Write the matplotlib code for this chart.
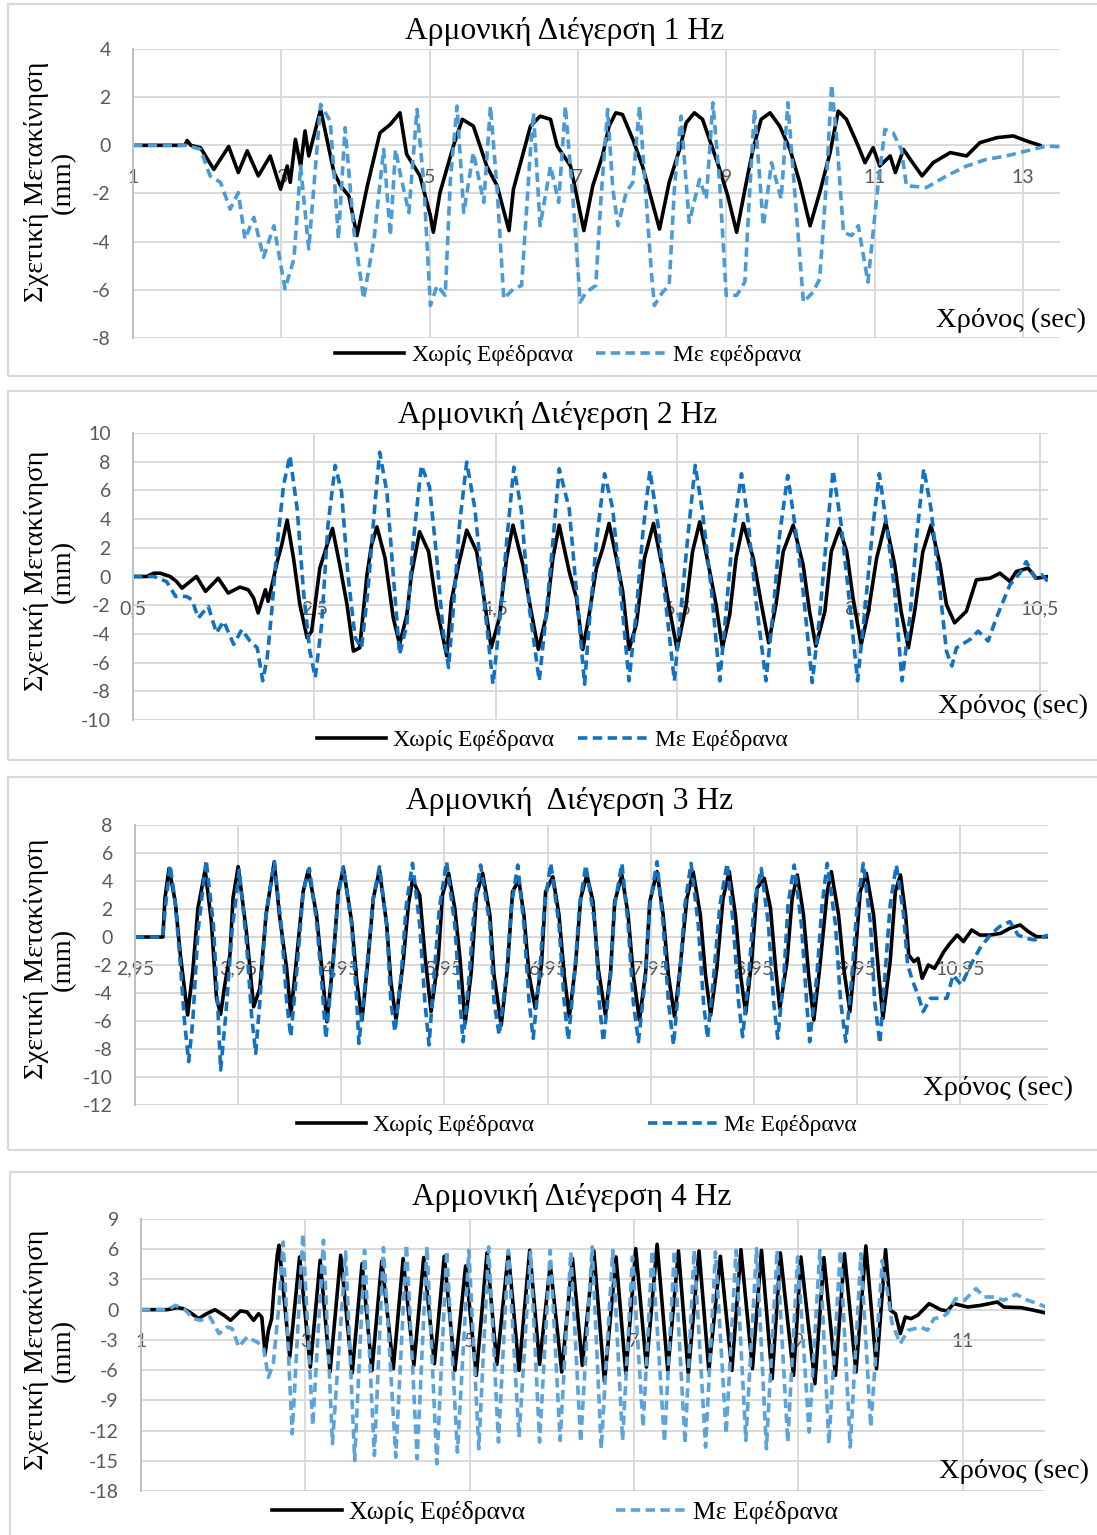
import matplotlib
matplotlib.use("Agg")
import matplotlib.pyplot as plt
from matplotlib.patches import Rectangle

W, H = 1097, 1535

# time (sec), relative displacement (mm)
p1_black = [(1.0, 0.0), (1.70, 0.0), (1.73, 0.2), (1.78, 0.0), (1.91, -0.1), (2.09, -1.0), (2.29, -0.05),
            (2.42, -1.13), (2.54, -0.23), (2.69, -1.27), (2.85, -0.44), (2.99, -1.82), (3.08, -0.86),
            (3.12, -1.54), (3.19, 0.25), (3.26, -0.86), (3.32, 0.6), (3.37, -0.44), (3.53, 1.49),
            (3.71, -1.13), (3.80, -1.68), (3.91, -2.1), (4.02, -3.75), (4.16, -1.68), (4.33, 0.52),
            (4.47, 0.87), (4.60, 1.35), (4.69, -0.37), (4.87, -1.27), (5.01, -2.92), (5.05, -3.61),
            (5.14, -1.96), (5.32, -0.03), (5.44, 1.08), (5.59, 0.8), (5.77, -0.86), (5.91, -1.68),
            (6.07, -3.54), (6.13, -1.82), (6.36, 0.8), (6.49, 1.21), (6.63, 1.08), (6.72, -0.03),
            (6.90, -0.86), (7.08, -3.54), (7.20, -1.68), (7.33, -0.44), (7.42, 0.8), (7.51, 1.35),
            (7.60, 1.28), (7.74, 0.25), (7.87, -0.86), (7.99, -2.23), (8.10, -3.48), (8.23, -1.54),
            (8.37, -0.17), (8.46, 0.94), (8.57, 1.35), (8.68, 1.08), (8.82, -0.17), (8.91, -0.99),
            (9.02, -2.1), (9.14, -3.61), (9.27, -1.54), (9.36, -0.17), (9.47, 1.08), (9.59, 1.35),
            (9.72, 0.8), (9.86, -0.17), (9.99, -1.54), (10.13, -3.34), (10.26, -1.96), (10.40, -0.3),
            (10.51, 1.42), (10.62, 1.08), (10.76, 0.11), (10.87, -0.72), (10.98, -0.1), (11.07, -0.86),
            (11.21, -0.44), (11.28, -1.13), (11.39, -0.17), (11.48, -0.58), (11.64, -1.27), (11.79, -0.72),
            (12.02, -0.3), (12.24, -0.44), (12.42, 0.11), (12.65, 0.32), (12.87, 0.39), (13.05, 0.18),
            (13.23, 0.0)]
p1_blue = [(1.0, 0.0), (1.73, 0.0), (1.91, -0.17), (2.04, -1.27), (2.18, -1.54), (2.31, -2.65), (2.42, -1.96),
           (2.51, -3.89), (2.63, -2.99), (2.76, -4.65), (2.90, -3.34), (3.05, -5.96), (3.17, -4.72),
           (3.26, -0.86), (3.37, -4.3), (3.53, 1.7), (3.66, 1.0), (3.71, -1.13), (3.77, -3.89), (3.86, 0.73),
           (3.98, -3.61), (4.11, -6.37), (4.25, -3.89), (4.38, -0.17), (4.47, -3.75), (4.54, -0.17),
           (4.60, -1.13), (4.72, -2.79), (4.83, 1.49), (4.92, -1.54), (5.01, -6.65), (5.10, -5.82),
           (5.21, -6.23), (5.28, -1.41), (5.37, 1.63), (5.46, -2.79), (5.59, -0.3), (5.73, -2.37),
           (5.82, 1.63), (5.91, -1.82), (6.00, -6.37), (6.13, -5.96), (6.24, -5.82), (6.36, -0.17),
           (6.40, 1.35), (6.49, -3.34), (6.63, -0.86), (6.74, -2.37), (6.83, 1.63), (6.94, -2.51),
           (7.03, -6.51), (7.11, -6.1), (7.24, -5.82), (7.31, -2.23), (7.40, 1.49), (7.47, -1.82),
           (7.54, -3.34), (7.65, -1.96), (7.74, -1.54), (7.83, 1.63), (7.92, -2.23), (7.99, -5.27),
           (8.03, -6.65), (8.14, -6.1), (8.23, -5.82), (8.30, -1.82), (8.39, 1.21), (8.50, -3.2),
           (8.64, -1.41), (8.73, -2.23), (8.82, 1.77), (8.91, -1.54), (9.0, -6.23), (9.14, -6.23),
           (9.25, -5.68), (9.32, -1.68), (9.38, 1.49), (9.50, -3.34), (9.61, -0.72), (9.74, -2.23),
           (9.83, 1.77), (9.92, -1.82), (10.04, -6.51), (10.17, -6.1), (10.26, -5.54), (10.35, -1.54),
           (10.42, 2.52), (10.49, 0.25), (10.58, -3.61), (10.69, -3.75), (10.78, -3.34), (10.91, -5.68),
           (10.98, -3.61), (11.05, -1.54), (11.14, 0.66), (11.25, 0.52), (11.36, -0.17), (11.43, -1.68),
           (11.70, -1.75), (11.97, -1.27), (12.24, -0.86), (12.51, -0.58), (12.78, -0.44), (13.05, -0.23),
           (13.32, -0.03), (13.50, -0.06)]

p2_black = [(0.5, 0.0), (0.65, 0.0), (0.73, 0.23), (0.80, 0.23), (0.91, 0.0), (0.98, -0.35), (1.04, -0.81),
            (1.20, 0.0), (1.30, -1.04), (1.44, -0.12), (1.55, -1.15), (1.68, -0.74), (1.77, -0.92),
            (1.83, -1.5), (1.88, -2.54), (1.96, -0.92), (1.99, -1.73), (2.05, -0.12), (2.09, 1.04),
            (2.14, 2.19), (2.20, 3.93), (2.27, 1.27), (2.34, -1.96), (2.42, -4.27), (2.47, -3.81),
            (2.56, 0.58), (2.64, 2.19), (2.70, 3.35), (2.78, 0.81), (2.86, -1.96), (2.93, -5.2),
            (3.00, -4.97), (3.08, 0.12), (3.13, 2.19), (3.19, 3.46), (3.28, 1.27), (3.37, -2.89),
            (3.44, -4.73), (3.52, -2.66), (3.57, 0.12), (3.66, 3.12), (3.76, 1.73), (3.85, -2.19),
            (3.96, -5.54), (4.01, -1.73), (4.09, 0.81), (4.18, 3.23), (4.29, 1.73), (4.36, -1.04),
            (4.45, -4.97), (4.54, -2.89), (4.62, 1.27), (4.69, 3.58), (4.80, 0.81), (4.89, -2.42),
            (4.97, -5.08), (5.06, -2.66), (5.13, 1.27), (5.20, 3.58), (5.31, 0.35), (5.39, -1.5),
            (5.46, -5.08), (5.53, -2.66), (5.61, 0.58), (5.68, 1.96), (5.75, 3.7), (5.83, 1.27),
            (5.90, -1.04), (5.97, -5.08), (6.05, -3.35), (6.14, 1.27), (6.24, 3.7), (6.34, 0.58),
            (6.42, -2.42), (6.50, -5.08), (6.60, -1.96), (6.67, 1.73), (6.75, 3.81), (6.86, 0.35),
            (6.93, -1.96), (7.00, -4.97), (7.08, -2.66), (7.15, 1.27), (7.23, 3.7), (7.34, 1.27),
            (7.43, -1.96), (7.51, -4.62), (7.59, -1.96), (7.67, 1.73), (7.78, 3.58), (7.89, 0.81),
            (7.96, -2.42), (8.03, -4.85), (8.13, -2.42), (8.20, 1.73), (8.29, 3.35), (8.37, 1.73),
            (8.44, -1.5), (8.53, -4.73), (8.61, -2.42), (8.70, 1.27), (8.80, 3.81), (8.90, 0.81),
            (8.97, -2.42), (9.05, -4.97), (9.12, -2.42), (9.21, 1.73), (9.30, 3.58), (9.40, 0.81),
            (9.47, -1.96), (9.56, -3.23), (9.69, -2.42), (9.80, -0.23), (9.95, -0.12), (10.06, 0.23),
            (10.17, -0.35), (10.24, 0.35), (10.37, 0.58), (10.46, -0.12), (10.59, 0.0)]
p2_blue = [(0.5, 0.0), (0.73, 0.0), (0.87, -0.35), (0.97, -1.39), (1.09, -1.39), (1.15, -1.62), (1.22, -2.89),
           (1.33, -2.08), (1.42, -3.93), (1.50, -3.12), (1.61, -4.73), (1.70, -3.7), (1.79, -4.5),
           (1.87, -4.97), (1.93, -7.27), (1.98, -5.66), (2.03, -2.42), (2.09, 2.19), (2.16, 6.35),
           (2.23, 8.43), (2.31, 4.73), (2.38, -1.04), (2.45, -5.2), (2.51, -7.04), (2.58, -3.35),
           (2.65, 3.58), (2.73, 7.74), (2.80, 5.89), (2.87, 0.12), (2.95, -4.27), (3.02, -4.97),
           (3.09, -1.04), (3.17, 5.2), (3.22, 8.66), (3.30, 5.89), (3.37, 0.12), (3.44, -5.43),
           (3.52, -3.35), (3.59, 2.42), (3.68, 7.74), (3.77, 6.24), (3.85, 1.27), (3.92, -3.81),
           (3.98, -6.35), (4.03, -2.42), (4.10, 3.58), (4.18, 7.97), (4.27, 4.73), (4.36, -1.04),
           (4.47, -7.51), (4.54, -3.35), (4.62, 2.42), (4.70, 7.62), (4.78, 4.73), (4.87, -2.19),
           (4.98, -7.27), (5.06, -2.42), (5.13, 2.42), (5.20, 7.51), (5.31, 4.73), (5.39, -1.04),
           (5.48, -7.51), (5.53, -3.35), (5.61, 2.42), (5.70, 7.16), (5.79, 4.73), (5.86, 0.12),
           (5.97, -7.27), (6.05, -2.42), (6.12, 2.89), (6.20, 7.39), (6.29, 3.58), (6.38, -2.19),
           (6.47, -7.27), (6.54, -2.42), (6.62, 2.89), (6.70, 7.74), (6.78, 4.5), (6.88, -1.04),
           (6.97, -7.27), (7.04, -2.42), (7.11, 2.66), (7.21, 7.16), (7.28, 4.04), (7.37, -1.73),
           (7.48, -7.27), (7.56, -2.42), (7.63, 2.89), (7.72, 7.04), (7.80, 3.58), (7.89, -1.04),
           (7.99, -7.39), (8.07, -2.89), (8.15, 2.89), (8.22, 7.39), (8.31, 3.58), (8.40, -1.73),
           (8.49, -7.27), (8.57, -2.42), (8.66, 3.58), (8.73, 7.16), (8.81, 3.58), (8.90, -1.04),
           (8.98, -7.27), (9.07, -2.66), (9.14, 2.66), (9.22, 7.51), (9.30, 4.73), (9.40, -1.04),
           (9.47, -5.2), (9.53, -6.24), (9.58, -4.97), (9.73, -4.39), (9.82, -3.81), (9.93, -4.5),
           (10.02, -2.89), (10.17, -0.58), (10.28, 0.23), (10.35, 1.04), (10.45, -0.12), (10.52, 0.12),
           (10.59, -0.35)]

p3_black = [(2.95, 0.0), (3.22, 0.0), (3.24, 2.76), (3.28, 4.9), (3.34, 2.52), (3.39, -1.29), (3.46, -5.57),
            (3.51, -2.48), (3.56, 2.05), (3.63, 4.79), (3.69, 1.1), (3.74, -4.38), (3.78, -5.52),
            (3.82, -3.43), (3.87, -1.29), (3.90, 2.76), (3.95, 5.02), (4.03, 0.38), (4.10, -4.98),
            (4.16, -3.67), (4.22, 1.57), (4.30, 5.38), (4.35, 1.57), (4.42, -2.24), (4.46, -5.57),
            (4.51, -2.0), (4.58, 3.24), (4.63, 4.79), (4.71, 1.57), (4.76, -2.24), (4.81, -6.05),
            (4.87, -1.76), (4.92, 3.24), (4.97, 4.9), (5.05, 1.1), (5.10, -3.19), (5.15, -5.93),
            (5.21, -1.52), (5.26, 2.76), (5.32, 4.79), (5.39, 0.86), (5.43, -3.19), (5.48, -5.93),
            (5.55, -1.76), (5.60, 2.29), (5.64, 4.07), (5.71, 3.0), (5.76, -1.29), (5.82, -5.33),
            (5.89, -1.52), (5.93, 3.0), (5.99, 4.55), (6.05, 2.05), (6.10, -1.52), (6.15, -6.17),
            (6.21, -2.48), (6.26, 3.0), (6.32, 4.55), (6.39, 1.57), (6.43, -2.71), (6.50, -6.29),
            (6.56, -2.24), (6.61, 3.24), (6.67, 4.07), (6.72, 1.57), (6.77, -2.71), (6.83, -5.1),
            (6.89, -2.0), (6.93, 3.24), (7.00, 4.31), (7.06, 1.57), (7.11, -2.71), (7.16, -5.69),
            (7.22, -2.0), (7.27, 2.76), (7.33, 4.43), (7.39, 2.52), (7.44, -2.24), (7.51, -5.57),
            (7.56, -2.48), (7.60, 2.52), (7.67, 4.43), (7.73, 1.57), (7.78, -2.71), (7.84, -5.93),
            (7.90, -2.48), (7.94, 2.52), (8.01, 4.67), (8.07, 1.57), (8.12, -2.71), (8.18, -5.69),
            (8.23, -2.48), (8.30, 2.76), (8.36, 4.67), (8.43, 1.57), (8.48, -2.71), (8.53, -5.57),
            (8.59, -2.24), (8.65, 2.76), (8.71, 4.67), (8.77, 1.57), (8.82, -2.71), (8.87, -5.45),
            (8.93, -1.52), (8.98, 3.48), (9.05, 4.19), (9.11, 2.05), (9.16, -2.24), (9.20, -5.1),
            (9.27, -1.76), (9.32, 2.76), (9.37, 4.43), (9.43, 1.57), (9.48, -2.71), (9.53, -5.93),
            (9.59, -2.0), (9.66, 3.24), (9.70, 4.67), (9.77, 1.57), (9.82, -2.24), (9.88, -5.33),
            (9.93, -1.52), (9.98, 3.24), (10.04, 4.55), (10.11, 1.57), (10.16, -2.71), (10.20, -5.81),
            (10.27, -1.76), (10.32, 3.24), (10.37, 4.43), (10.42, 1.57), (10.45, -1.29), (10.50, -1.76),
            (10.54, -1.52), (10.58, -2.95), (10.64, -2.0), (10.70, -2.24), (10.79, -1.05), (10.85, -0.45),
            (10.92, 0.14), (10.98, -0.33), (11.06, 0.5), (11.14, 0.14), (11.24, 0.14), (11.34, 0.26),
            (11.43, 0.62), (11.53, 0.86), (11.61, 0.38), (11.69, 0.02), (11.80, 0.02)]
p3_blue = [(2.95, 0.0), (3.22, 0.0), (3.24, 1.81), (3.29, 5.14), (3.34, 2.52), (3.39, -2.0), (3.43, -6.05),
           (3.47, -8.9), (3.51, -6.05), (3.56, 0.38), (3.64, 5.5), (3.71, 0.86), (3.75, -4.62), (3.78, -9.5),
           (3.83, -5.57), (3.89, 0.38), (3.96, 4.79), (4.03, -0.33), (4.08, -5.57), (4.12, -8.31),
           (4.16, -4.62), (4.22, 1.57), (4.30, 5.38), (4.37, 0.62), (4.42, -4.62), (4.46, -7.12),
           (4.51, -3.19), (4.58, 3.24), (4.64, 4.9), (4.71, 1.1), (4.76, -3.19), (4.80, -7.24),
           (4.87, -2.0), (4.92, 3.0), (4.97, 5.02), (5.05, 0.86), (5.10, -4.62), (5.12, -7.6),
           (5.19, -2.71), (5.26, 2.76), (5.32, 5.02), (5.39, 0.86), (5.43, -4.62), (5.47, -6.76),
           (5.53, -2.71), (5.58, 2.29), (5.64, 5.26), (5.71, 0.86), (5.76, -4.62), (5.80, -7.71),
           (5.85, -2.71), (5.90, 2.05), (5.97, 5.38), (6.05, 0.86), (6.10, -4.62), (6.13, -7.48),
           (6.19, -2.71), (6.24, 2.29), (6.30, 5.14), (6.39, 0.86), (6.43, -4.62), (6.48, -7.0),
           (6.55, -2.71), (6.60, 2.29), (6.66, 5.14), (6.72, 0.86), (6.77, -4.62), (6.81, -7.24),
           (6.87, -2.71), (6.92, 2.29), (6.98, 5.26), (7.06, 0.86), (7.11, -4.62), (7.15, -7.36),
           (7.21, -2.71), (7.26, 2.29), (7.32, 5.14), (7.41, 0.86), (7.45, -4.62), (7.49, -7.48),
           (7.56, -2.71), (7.60, 2.29), (7.67, 5.26), (7.73, 0.86), (7.78, -4.62), (7.83, -7.48),
           (7.90, -2.71), (7.94, 2.29), (8.01, 5.38), (8.07, 0.86), (8.12, -4.62), (8.17, -7.71),
           (8.23, -2.71), (8.28, 2.29), (8.34, 5.26), (8.41, 0.86), (8.46, -4.62), (8.50, -7.24),
           (8.56, -2.71), (8.62, 2.29), (8.69, 5.26), (8.75, 0.86), (8.80, -4.62), (8.84, -7.12),
           (8.90, -2.71), (8.95, 2.29), (9.02, 4.9), (9.09, 0.86), (9.14, -4.62), (9.18, -7.24),
           (9.24, -2.71), (9.28, 2.29), (9.34, 5.14), (9.41, 0.86), (9.46, -4.62), (9.49, -7.48),
           (9.56, -2.71), (9.61, 2.29), (9.66, 5.26), (9.74, 0.86), (9.79, -4.62), (9.84, -7.48),
           (9.90, -2.71), (9.95, 2.29), (10.01, 5.26), (10.08, 0.86), (10.12, -4.62), (10.17, -7.6),
           (10.22, -2.71), (10.27, 2.29), (10.33, 5.14), (10.40, 1.57), (10.44, -2.0), (10.49, -3.19),
           (10.54, -4.14), (10.59, -5.33), (10.66, -4.38), (10.75, -4.38), (10.82, -4.38), (10.88, -2.71),
           (10.96, -3.43), (11.05, -2.0), (11.14, -0.81), (11.24, 0.14), (11.33, 0.74), (11.43, 1.1),
           (11.51, 0.14), (11.59, -0.1), (11.67, -0.21), (11.80, 0.14)]

p4_black = [(1.0, 0.0), (1.32, 0.0), (1.44, 0.2), (1.52, 0.1), (1.62, -0.4), (1.70, -0.89), (1.80, -0.4),
            (1.90, 0.0), (2.01, -0.56), (2.09, -1.06), (2.21, -0.13), (2.29, -0.23), (2.37, -1.06),
            (2.43, -0.4), (2.47, -0.73), (2.51, -4.37), (2.55, -2.05), (2.59, -0.89), (2.62, 2.25),
            (2.66, 5.56), (2.68, 6.39), (2.81, -4.7), (2.93, 5.23), (3.06, -5.7), (3.18, 4.9), (3.30, -6.19),
            (3.43, 5.4), (3.57, -6.29), (3.69, 4.57), (3.81, -6.03), (3.93, 4.83), (4.07, -5.86),
            (4.19, 5.07), (4.32, -5.53), (4.44, 5.17), (4.57, -5.36), (4.69, 5.3), (4.82, -6.03),
            (4.95, 4.34), (5.08, -6.52), (5.21, 5.63), (5.33, -5.43), (5.47, 5.63), (5.60, -6.03),
            (5.73, 5.89), (5.85, -5.43), (5.98, 4.47), (6.12, -6.19), (6.25, 5.07), (6.37, -5.53),
            (6.51, 5.83), (6.64, -7.18), (6.78, 5.23), (6.90, -6.36), (7.02, 6.06), (7.15, -5.7),
            (7.28, 6.49), (7.41, -6.03), (7.54, 5.83), (7.66, -6.36), (7.79, 5.83), (7.91, -6.03),
            (8.05, 5.3), (8.19, -6.03), (8.30, 5.96), (8.44, -5.86), (8.55, 5.89), (8.68, -6.85),
            (8.78, 5.63), (8.94, -6.52), (9.03, 5.23), (9.20, -7.35), (9.31, 5.17), (9.45, -6.52),
            (9.56, 5.56), (9.70, -6.19), (9.82, 6.32), (9.95, -5.86), (10.06, 5.96), (10.12, -0.07),
            (10.18, -0.4), (10.24, -2.38), (10.30, -0.73), (10.37, -0.89), (10.45, -0.56), (10.59, 0.6),
            (10.73, 0.0), (10.81, -0.13), (10.89, 0.6), (11.06, 0.26), (11.22, 0.43), (11.42, 0.76),
            (11.50, 0.26), (11.71, 0.2), (11.87, -0.07), (12.01, -0.33)]
p4_blue = [(1.0, 0.0), (1.32, 0.0), (1.42, 0.43), (1.52, 0.1), (1.64, -0.89), (1.72, -1.06), (1.84, -0.73),
           (1.95, -2.38), (2.05, -1.72), (2.11, -1.89), (2.19, -3.71), (2.29, -2.71), (2.41, -3.21),
           (2.49, -3.71), (2.55, -6.72), (2.61, -5.36), (2.68, 0.6), (2.73, 6.72), (2.84, -12.32),
           (2.97, 7.55), (3.09, -11.49), (3.22, 6.89), (3.33, -13.31), (3.49, 5.73), (3.60, -14.97),
           (3.72, 5.89), (3.84, -14.47), (3.95, 6.16), (4.10, -14.64), (4.23, 6.49), (4.36, -14.8),
           (4.48, 6.29), (4.60, -15.3), (4.72, 5.89), (4.85, -14.14), (4.99, 5.89), (5.11, -13.8),
           (5.23, 6.23), (5.35, -13.15), (5.47, 5.89), (5.60, -12.65), (5.74, 5.73), (5.85, -13.15),
           (5.98, 5.89), (6.10, -12.98), (6.23, 5.73), (6.35, -13.15), (6.49, 6.23), (6.60, -13.8),
           (6.74, 5.89), (6.86, -12.98), (6.98, 5.23), (7.11, -11.66), (7.22, 5.89), (7.37, -13.15),
           (7.49, 5.89), (7.62, -13.31), (7.73, 5.89), (7.87, -13.64), (7.99, 5.73), (8.12, -12.32),
           (8.24, 5.89), (8.36, -12.98), (8.49, 6.06), (8.61, -13.8), (8.74, 5.89), (8.87, -13.15),
           (8.99, 5.23), (9.13, -12.15), (9.26, 5.89), (9.37, -13.31), (9.51, 5.89), (9.63, -13.64),
           (9.76, 5.56), (9.88, -11.66), (10.02, 4.9), (10.08, 1.92), (10.14, -1.39), (10.24, -3.38),
           (10.33, -2.05), (10.41, -1.89), (10.49, -1.72), (10.57, -2.05), (10.65, -0.89), (10.75, -0.73),
           (10.81, -0.4), (10.91, 1.09), (11.02, 0.93), (11.16, 2.09), (11.26, 1.26), (11.38, 1.26),
           (11.50, 0.93), (11.65, 1.52), (11.79, 0.93), (11.91, 0.6), (12.01, 0.26)]

titles = ["Αρμονική Διέγερση 1 Hz", "Αρμονική Διέγερση 2 Hz",
          "Αρμονική  Διέγερση 3 Hz", "Αρμονική Διέγερση 4 Hz"]
legend_labels = [("Χωρίς Εφέδρανα", "Με εφέδρανα"), ("Χωρίς Εφέδρανα", "Με Εφέδρανα"),
                 ("Χωρίς Εφέδρανα", "Με Εφέδρανα"), ("Χωρίς Εφέδρανα", "Με Εφέδρανα")]
x_ticks = [[1, 3, 5, 7, 9, 11, 13],
           [0.5, 2.5, 4.5, 6.5, 8.5, 10.5],
           [2.95, 3.95, 4.95, 5.95, 6.95, 7.95, 8.95, 9.95, 10.95],
           [1, 3, 5, 7, 9, 11]]
x_tick_labels = [["1", "3", "5", "7", "9", "11", "13"],
                 ["0,5", "2,5", "4,5", "6,5", "8,5", "10,5"],
                 ["2,95", "3,95", "4,95", "5,95", "6,95", "7,95", "8,95", "9,95", "10,95"],
                 ["1", "3", "5", "7", "9", "11"]]
y_ticks = [[-8, -6, -4, -2, 0, 2, 4],
           [-10, -8, -6, -4, -2, 0, 2, 4, 6, 8, 10],
           [-12, -10, -8, -6, -4, -2, 0, 2, 4, 6, 8],
           [-18, -15, -12, -9, -6, -3, 0, 3, 6, 9]]
x_limits = [(1, 13.5), (0.5, 10.59), (2.95, 11.8), (1, 12.0)]

SERIF = "Liberation Serif"
TICKFONT = "Lato"
GRID = "#d9d9d9"

panels = [
    # frame box, axes box (left, top, right, bottom in px), title, legend, xlabel, ylabel positions
    dict(frame=(8, 4, 1100, 376), box=(133, 49, 1060, 338), title_y=31, title_x=565,
         leg=(568, 355), leg_space=1.0, leg_size=17, xlab=(1011, 320), ylab_y=182,
         black=p1_black, blue=p1_blue, blue_color="#4b9bd6"),
    dict(frame=(8, 391, 1100, 760), box=(133, 433, 1048, 720), title_y=415, title_x=558,
         leg=(552, 740), leg_space=1.0, leg_size=17, xlab=(1013, 706), ylab_y=571,
         black=p2_black, blue=p2_blue, blue_color="#1272c2"),
    dict(frame=(8, 777, 1100, 1150), box=(135, 825, 1048, 1105), title_y=801, title_x=570,
         leg=(577, 1125), leg_space=4.8, leg_size=17, xlab=(998, 1088), ylab_y=959,
         black=p3_black, blue=p3_blue, blue_color="#1272c2"),
    dict(frame=(10, 1172, 1100, 1545), box=(141, 1219, 1045, 1491), title_y=1198, title_x=572,
         leg=(555, 1512), leg_space=3.5, leg_size=18.5, xlab=(1014, 1471), ylab_y=1350,
         black=p4_black, blue=p4_blue, blue_color="#5aa3db"),
]


def fx(px):
    return px / W


def fy(py):
    return 1 - py / H


fig = plt.figure(figsize=(W / 100, H / 100), dpi=100)

for i, p in enumerate(panels):
    l, t, r, b = p["frame"]
    fig.patches.append(Rectangle((fx(l), fy(b)), fx(r - l), (b - t) / H, transform=fig.transFigure,
                                 fill=False, edgecolor=GRID, linewidth=1.6))

    l, t, r, b = p["box"]
    ax = fig.add_axes([fx(l), fy(b), fx(r - l), (b - t) / H])
    ax.set_axisbelow(True)

    tb, yb = zip(*p["black"])
    tl, yl = zip(*p["blue"])
    ax.plot(tb, yb, color="black", lw=2.6, solid_joinstyle="round", label=legend_labels[i][0])
    ax.plot(tl, yl, color=p["blue_color"], lw=2.6, dashes=(2.6, 1.5), dash_capstyle="butt",
            label=legend_labels[i][1])

    ax.set_xlim(*x_limits[i])
    ax.set_ylim(y_ticks[i][0], y_ticks[i][-1])
    ax.set_xticks(x_ticks[i])
    ax.set_xticklabels(x_tick_labels[i])
    ax.set_yticks(y_ticks[i])
    ax.set_yticklabels([str(v) for v in y_ticks[i]])
    ax.grid(True, color=GRID, linewidth=1.4)

    for s in ["top", "right", "bottom"]:
        ax.spines[s].set_visible(False)
    ax.spines["left"].set_color("#bfbfbf")
    ax.spines["left"].set_linewidth(1.4)
    ax.spines["bottom"].set_position(("data", 0))

    ax.tick_params(axis="x", length=0, pad=17, labelsize=14, labelcolor="#595959")
    ax.tick_params(axis="y", length=0, pad=16, labelsize=14, labelcolor="#595959")
    for lab in ax.get_xticklabels() + ax.get_yticklabels():
        lab.set_fontfamily(TICKFONT)

    fig.text(fx(p["title_x"]), fy(p["title_y"]), titles[i], ha="center", va="center",
             family=SERIF, fontsize=22.8)
    fig.text(fx(p["xlab"][0]), fy(p["xlab"][1]), "Χρόνος (sec)", ha="center", va="center",
             family=SERIF, fontsize=20.5)
    fig.text(fx(50), fy(p["ylab_y"]), "Σχετική Μετακίνηση\n(mm)", ha="center", va="center",
             rotation=90, multialignment="center", linespacing=1.1, family=SERIF, fontsize=20.5)

    ax.legend(loc="center", bbox_to_anchor=(fx(p["leg"][0]), fy(p["leg"][1])),
              bbox_transform=fig.transFigure, ncol=2, frameon=False,
              prop={"family": SERIF, "size": p["leg_size"]},
              handlelength=50 / p["leg_size"], handletextpad=0.3,
              columnspacing=p["leg_space"], borderpad=0, borderaxespad=0)

fig.savefig("out.png", dpi=100)
